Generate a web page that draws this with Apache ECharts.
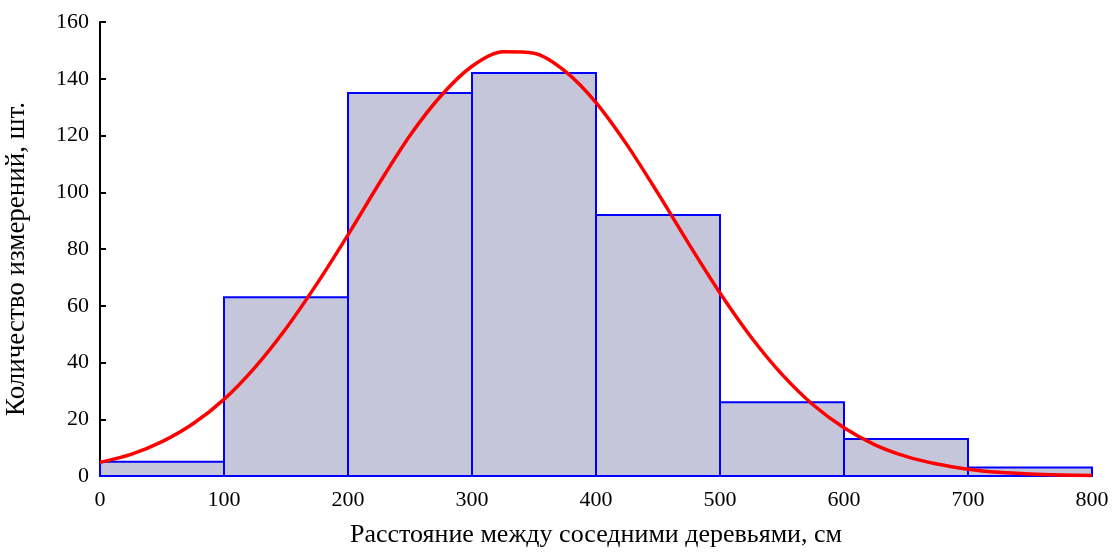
<!DOCTYPE html>
<html>
<head>
<meta charset="utf-8">
<script src="https://cdn.jsdelivr.net/npm/echarts@6/dist/echarts.min.js"></script>
<style>
  html, body { margin: 0; padding: 0; background: #fff; }
  #chart { width: 1116px; height: 553px; }
</style>
</head>
<body>
<div id="chart"></div>
<script>
// интервалы гистограммы (см) и число измерений
const binStarts = [0, 100, 200, 300, 400, 500, 600, 700]
const binEnds = [100, 200, 300, 400, 500, 600, 700, 800]
const counts = [5, 63, 135, 142, 92, 26, 13, 3]

// кривая нормального распределения
const curveX = [0, 25, 50, 75, 100, 125, 150, 175, 200, 225, 250, 275, 300, 325, 350, 375, 400,
  425, 450, 475, 500, 525, 550, 575, 600, 625, 650, 675, 700, 725, 750, 775, 800]
const curveY = [4.8, 7.6, 12.1, 18.4, 27, 38.3, 52, 67.8, 85, 103, 120, 134, 144.4, 149.5, 149, 142.7, 131.6,
  116.7, 99.6, 81.7, 64.5, 49, 35.8, 25.1, 17, 11, 6.9, 4.2, 2.4, 1.3, 0.7, 0.37, 0.18]

const font = '"Liberation Serif", "DejaVu Serif", serif'

const chart = echarts.init(document.getElementById('chart'))

const histData = binStarts.map((s, i) => [s, binEnds[i], counts[i]])
const curveData = curveX.map((x, i) => [x, curveY[i]])

chart.setOption({
  animation: false,
  grid: { left: 100, right: 24, top: 22, bottom: 77, outerBoundsMode: 'none', containLabel: false },
  xAxis: {
    type: 'value',
    min: 0,
    max: 800,
    interval: 100,
    name: 'Расстояние между соседними деревьями, см',
    nameLocation: 'middle',
    nameGap: 46,
    nameTextStyle: { color: '#000', fontFamily: font, fontSize: 26 },
    axisLine: { lineStyle: { color: '#000', width: 2 } },
    axisTick: { inside: true, length: 6, lineStyle: { color: '#000', width: 2 } },
    axisLabel: { color: '#000', fontFamily: font, fontSize: 22, margin: 13 },
    splitLine: { show: false }
  },
  yAxis: {
    type: 'value',
    min: 0,
    max: 160,
    interval: 20,
    name: 'Количество измерений, шт.',
    nameLocation: 'middle',
    nameGap: 70,
    nameTextStyle: { color: '#000', fontFamily: font, fontSize: 27, padding: [0, 20, 0, 0] },
    axisLine: { show: true, lineStyle: { color: '#000', width: 2 } },
    axisTick: { show: true, inside: true, length: 6, lineStyle: { color: '#000', width: 2 } },
    axisLabel: { color: '#000', fontFamily: font, fontSize: 22, margin: 11 },
    splitLine: { show: false }
  },
  series: [
    {
      type: 'custom',
      data: histData,
      encode: { x: [0, 1], y: 2 },
      renderItem: (params, api) => {
        const p0 = api.coord([api.value(0), 0])
        const p1 = api.coord([api.value(1), api.value(2)])
        return {
          type: 'rect',
          shape: { x: p0[0], y: p1[1], width: p1[0] - p0[0], height: p0[1] - p1[1] },
          style: { fill: '#c6c6db', stroke: '#0000ff', lineWidth: 2 }
        }
      },
      z: 2
    },
    {
      type: 'line',
      data: curveData,
      smooth: 0.3,
      smoothConstraint: false,
      showSymbol: false,
      lineStyle: { color: '#ff0000', width: 3.5, join: 'round' },
      z: 3
    }
  ]
})
</script>
</body>
</html>
